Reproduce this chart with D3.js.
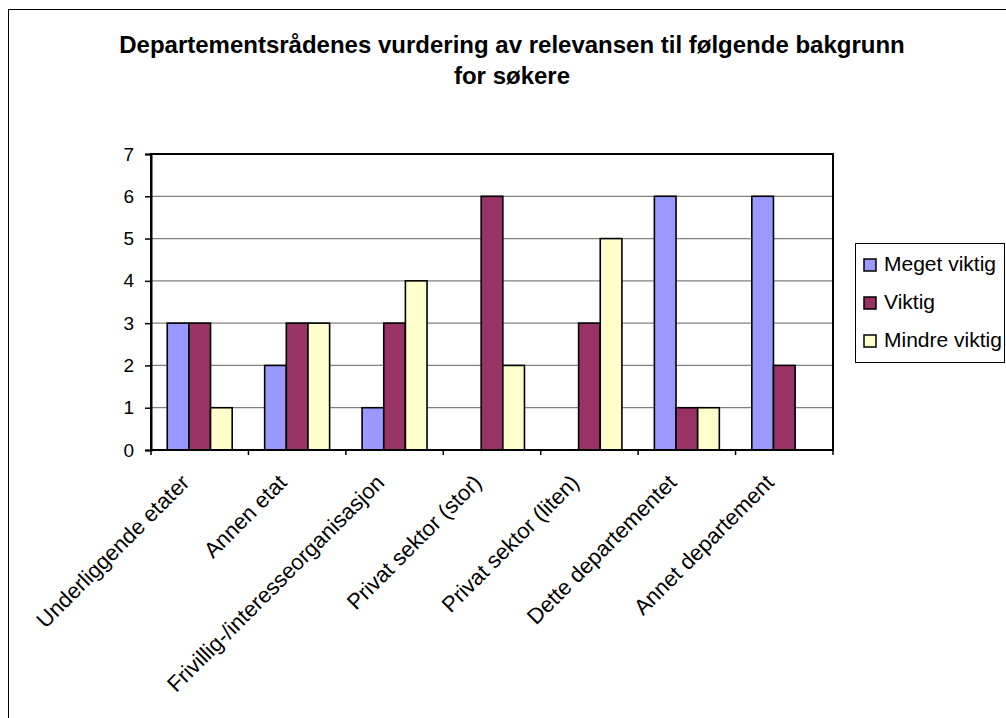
<!DOCTYPE html>
<html>
<head>
<meta charset="utf-8">
<script src="https://cdn.jsdelivr.net/npm/d3@7"></script>
<style>
  body { margin: 0; background: #fff; }
  svg { display: block; font-family: Arial, "Liberation Sans", sans-serif; }
</style>
</head>
<body>
<div id="chart"></div>
<script>
// data
const categories = ["Underliggende etater", "Annen etat", "Frivillig-/interesseorganisasjon",
  "Privat sektor (stor)", "Privat sektor (liten)", "Dette departementet", "Annet departement"];
const seriesNames = ["Meget viktig", "Viktig", "Mindre viktig"];
const megetViktig = [3, 2, 1, 0, 0, 6, 6];
const viktig = [3, 3, 3, 6, 3, 1, 2];
const mindreViktig = [1, 3, 4, 2, 5, 1, 0];
const yTicks = [0, 1, 2, 3, 4, 5, 6, 7];
const titleLines = ["Departementsrådenes vurdering av relevansen til følgende bakgrunn", "for søkere"];

const colors = ["#9999ff", "#993366", "#ffffcc"];
const values = [megetViktig, viktig, mindreViktig];

const width = 1006, height = 718;
const plot = { left: 151, right: 833, top: 154, bottom: 450 };

const svg = d3.select("#chart").append("svg")
  .attr("width", width)
  .attr("height", height);

// outer chart border (runs off the right/bottom edge)
svg.append("rect")
  .attr("x", 8.5).attr("y", 9.5)
  .attr("width", 1020).attr("height", 730)
  .attr("fill", "#fff")
  .attr("stroke", "#000")
  .attr("stroke-width", 1);

// title
svg.append("text")
  .attr("text-anchor", "middle")
  .attr("font-size", 24)
  .attr("font-weight", "bold")
  .selectAll("tspan")
  .data(titleLines)
  .join("tspan")
  .attr("x", 512)
  .attr("y", (d, i) => 53 + i * 31)
  .text(d => d);

// scales
const x0 = d3.scaleBand().domain(categories).range([plot.left, plot.right]);
const x1 = d3.scaleBand().domain(seriesNames).range([0, x0.bandwidth()])
  .paddingInner(0).paddingOuter(0.75);
const y = d3.scaleLinear().domain([0, 7]).range([plot.bottom, plot.top]);

// gridlines
svg.append("g")
  .selectAll("line")
  .data(yTicks.filter(t => t > 0 && t < 7))
  .join("line")
  .attr("x1", plot.left).attr("x2", plot.right)
  .attr("y1", d => y(d)).attr("y2", d => y(d))
  .attr("stroke", "#808080")
  .attr("stroke-width", 1.2);

// bars
const groups = svg.append("g")
  .selectAll("g")
  .data(categories)
  .join("g")
  .attr("transform", d => `translate(${x0(d)},0)`);

groups.selectAll("rect")
  .data((c, i) => seriesNames.map((s, k) => ({ s, k, v: values[k][i] })).filter(d => d.v > 0))
  .join("rect")
  .attr("x", d => x1(d.s))
  .attr("y", d => y(d.v))
  .attr("width", x1.bandwidth())
  .attr("height", d => y(0) - y(d.v))
  .attr("fill", d => colors[d.k])
  .attr("stroke", "#000")
  .attr("stroke-width", 1.6);

// plot area border
svg.append("rect")
  .attr("x", plot.left).attr("y", plot.top)
  .attr("width", plot.right - plot.left)
  .attr("height", plot.bottom - plot.top)
  .attr("fill", "none")
  .attr("stroke", "#000")
  .attr("stroke-width", 2);

// y axis
const yAxis = svg.append("g")
  .attr("transform", `translate(${plot.left},0)`)
  .call(d3.axisLeft(y).tickValues(yTicks).tickSize(6).tickPadding(11).tickFormat(d3.format("d")));
yAxis.select(".domain").attr("stroke-width", 2);
yAxis.selectAll(".tick line").attr("stroke-width", 1.5);
yAxis.selectAll(".tick text")
  .attr("font-size", 19)
  .attr("font-family", "Arial, 'Liberation Sans', sans-serif")
  .attr("fill", "#000");

// x axis: ticks at category boundaries
const xAxis = svg.append("g");
xAxis.append("line")
  .attr("x1", plot.left).attr("x2", plot.right)
  .attr("y1", plot.bottom).attr("y2", plot.bottom)
  .attr("stroke", "#000").attr("stroke-width", 2);
xAxis.selectAll("line.tick")
  .data(categories.concat([null]))
  .join("line")
  .attr("class", "tick")
  .attr("x1", (d, i) => i < categories.length ? x0(d) : plot.right)
  .attr("x2", (d, i) => i < categories.length ? x0(d) : plot.right)
  .attr("y1", plot.bottom).attr("y2", plot.bottom + 5)
  .attr("stroke", "#000").attr("stroke-width", 1.5);

xAxis.selectAll("text")
  .data(categories)
  .join("text")
  .attr("transform", d => `translate(${x0(d) + x0.bandwidth() / 2 - 9},${plot.bottom + 34}) rotate(-45)`)
  .attr("text-anchor", "end")
  .attr("font-size", 22)
  .attr("fill", "#000")
  .text(d => d);

// legend
const legend = svg.append("g");
legend.append("rect")
  .attr("x", 855.5).attr("y", 243.5)
  .attr("width", 149).attr("height", 119)
  .attr("fill", "#fff")
  .attr("stroke", "#000")
  .attr("stroke-width", 1);

const items = legend.selectAll("g.item")
  .data(seriesNames)
  .join("g")
  .attr("class", "item")
  .attr("transform", (d, i) => `translate(864,${265 + i * 38})`);

items.append("rect")
  .attr("x", 0).attr("y", -6)
  .attr("width", 12).attr("height", 12)
  .attr("fill", (d, i) => colors[i])
  .attr("stroke", "#000")
  .attr("stroke-width", 1.5);

items.append("text")
  .attr("x", 20).attr("y", 6)
  .attr("font-size", 21)
  .attr("fill", "#000")
  .text(d => d);
</script>
</body>
</html>
